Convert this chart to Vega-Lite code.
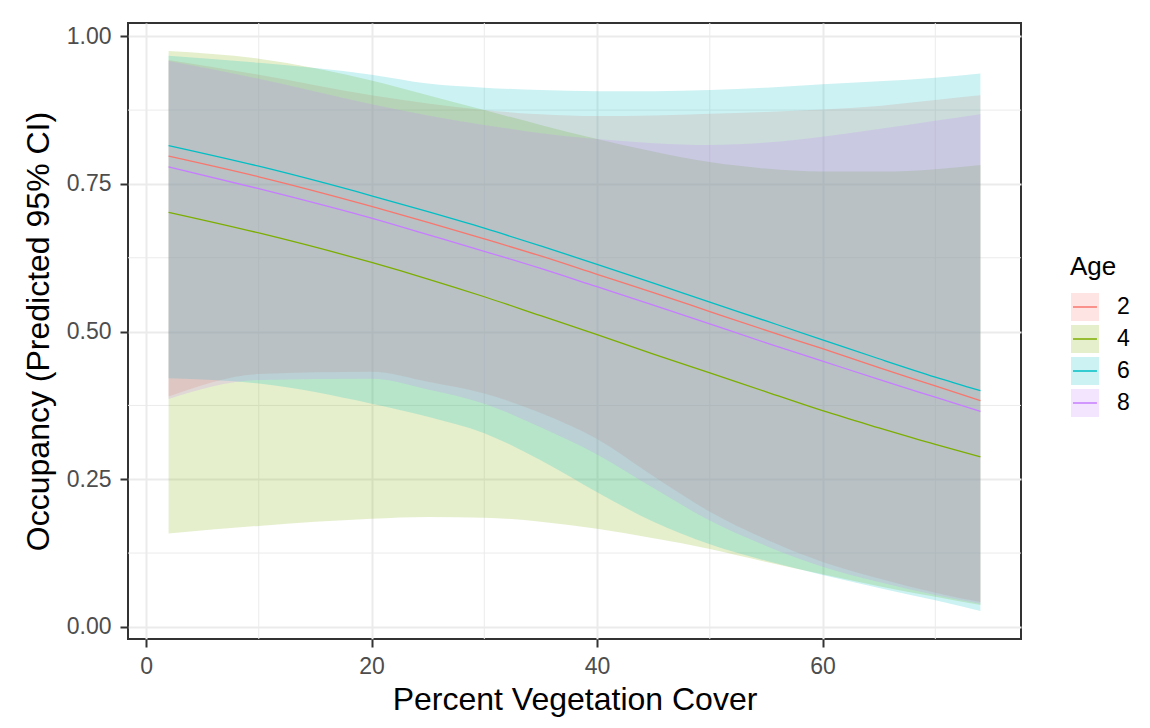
{
  "$schema": "https://vega.github.io/schema/vega-lite/v6.json",
  "width": 893,
  "height": 616,
  "autosize": {"type": "none"},
  "padding": {"left": 128, "top": 23, "right": 129, "bottom": 89},
  "background": "white",
  "config": {
    "font": "Liberation Sans",
    "view": {"stroke": "#333333", "strokeWidth": 2},
    "axis": {
      "domain": false,
      "tickColor": "#333333",
      "tickWidth": 2,
      "tickSize": 8,
      "labelColor": "#4D4D4D",
      "labelFontSize": 23,
      "labelFont": "Liberation Sans",
      "titleFont": "Liberation Sans",
      "titleFontSize": 32,
      "titleFontWeight": "normal",
      "titleColor": "#000000",
      "gridColor": "#EBEBEB",
      "gridWidth": 2
    },
    "legend": {
      "titleFont": "Liberation Sans",
      "labelFont": "Liberation Sans"
    }
  },
  "datasets": {
    "curves": [
      {"Age": "2", "x": 2, "fit": 0.797, "lo": 0.390, "hi": 0.960},
      {"Age": "2", "x": 10, "fit": 0.762, "lo": 0.428, "hi": 0.935},
      {"Age": "2", "x": 20, "fit": 0.712, "lo": 0.432, "hi": 0.900},
      {"Age": "2", "x": 25, "fit": 0.685, "lo": 0.415, "hi": 0.886},
      {"Age": "2", "x": 30, "fit": 0.657, "lo": 0.395, "hi": 0.875},
      {"Age": "2", "x": 35, "fit": 0.628, "lo": 0.362, "hi": 0.868},
      {"Age": "2", "x": 40, "fit": 0.597, "lo": 0.318, "hi": 0.865},
      {"Age": "2", "x": 45, "fit": 0.566, "lo": 0.255, "hi": 0.866},
      {"Age": "2", "x": 50, "fit": 0.534, "lo": 0.195, "hi": 0.869},
      {"Age": "2", "x": 55, "fit": 0.502, "lo": 0.148, "hi": 0.872},
      {"Age": "2", "x": 60, "fit": 0.471, "lo": 0.110, "hi": 0.876},
      {"Age": "2", "x": 65, "fit": 0.439, "lo": 0.082, "hi": 0.882},
      {"Age": "2", "x": 70, "fit": 0.408, "lo": 0.058, "hi": 0.892},
      {"Age": "2", "x": 74, "fit": 0.383, "lo": 0.042, "hi": 0.900},
      {"Age": "4", "x": 2, "fit": 0.702, "lo": 0.158, "hi": 0.975},
      {"Age": "4", "x": 10, "fit": 0.667, "lo": 0.171, "hi": 0.962},
      {"Age": "4", "x": 20, "fit": 0.617, "lo": 0.183, "hi": 0.925},
      {"Age": "4", "x": 25, "fit": 0.589, "lo": 0.186, "hi": 0.900},
      {"Age": "4", "x": 30, "fit": 0.559, "lo": 0.185, "hi": 0.875},
      {"Age": "4", "x": 35, "fit": 0.527, "lo": 0.178, "hi": 0.850},
      {"Age": "4", "x": 40, "fit": 0.495, "lo": 0.166, "hi": 0.826},
      {"Age": "4", "x": 45, "fit": 0.462, "lo": 0.150, "hi": 0.805},
      {"Age": "4", "x": 50, "fit": 0.430, "lo": 0.132, "hi": 0.787},
      {"Age": "4", "x": 55, "fit": 0.398, "lo": 0.110, "hi": 0.776},
      {"Age": "4", "x": 60, "fit": 0.366, "lo": 0.089, "hi": 0.771},
      {"Age": "4", "x": 65, "fit": 0.337, "lo": 0.069, "hi": 0.771},
      {"Age": "4", "x": 70, "fit": 0.309, "lo": 0.051, "hi": 0.775},
      {"Age": "4", "x": 74, "fit": 0.288, "lo": 0.037, "hi": 0.782},
      {"Age": "6", "x": 2, "fit": 0.815, "lo": 0.421, "hi": 0.967},
      {"Age": "6", "x": 10, "fit": 0.780, "lo": 0.412, "hi": 0.955},
      {"Age": "6", "x": 20, "fit": 0.730, "lo": 0.378, "hi": 0.935},
      {"Age": "6", "x": 25, "fit": 0.703, "lo": 0.356, "hi": 0.920},
      {"Age": "6", "x": 30, "fit": 0.675, "lo": 0.328, "hi": 0.913},
      {"Age": "6", "x": 35, "fit": 0.645, "lo": 0.282, "hi": 0.909},
      {"Age": "6", "x": 40, "fit": 0.614, "lo": 0.228, "hi": 0.907},
      {"Age": "6", "x": 45, "fit": 0.582, "lo": 0.178, "hi": 0.907},
      {"Age": "6", "x": 50, "fit": 0.550, "lo": 0.140, "hi": 0.909},
      {"Age": "6", "x": 55, "fit": 0.518, "lo": 0.112, "hi": 0.913},
      {"Age": "6", "x": 60, "fit": 0.486, "lo": 0.088, "hi": 0.919},
      {"Age": "6", "x": 65, "fit": 0.454, "lo": 0.066, "hi": 0.924},
      {"Age": "6", "x": 70, "fit": 0.423, "lo": 0.045, "hi": 0.930},
      {"Age": "6", "x": 74, "fit": 0.400, "lo": 0.027, "hi": 0.937},
      {"Age": "8", "x": 2, "fit": 0.779, "lo": 0.386, "hi": 0.958},
      {"Age": "8", "x": 10, "fit": 0.742, "lo": 0.418, "hi": 0.928},
      {"Age": "8", "x": 20, "fit": 0.692, "lo": 0.420, "hi": 0.885},
      {"Age": "8", "x": 25, "fit": 0.664, "lo": 0.402, "hi": 0.866},
      {"Age": "8", "x": 30, "fit": 0.636, "lo": 0.378, "hi": 0.850},
      {"Age": "8", "x": 35, "fit": 0.607, "lo": 0.338, "hi": 0.836},
      {"Age": "8", "x": 40, "fit": 0.576, "lo": 0.292, "hi": 0.826},
      {"Age": "8", "x": 45, "fit": 0.545, "lo": 0.235, "hi": 0.819},
      {"Age": "8", "x": 50, "fit": 0.513, "lo": 0.180, "hi": 0.816},
      {"Age": "8", "x": 55, "fit": 0.481, "lo": 0.137, "hi": 0.820},
      {"Age": "8", "x": 60, "fit": 0.450, "lo": 0.102, "hi": 0.830},
      {"Age": "8", "x": 65, "fit": 0.419, "lo": 0.076, "hi": 0.843},
      {"Age": "8", "x": 70, "fit": 0.389, "lo": 0.054, "hi": 0.857},
      {"Age": "8", "x": 74, "fit": 0.365, "lo": 0.039, "hi": 0.868}
    ],
    "minorX": [{"gx": 10}, {"gx": 30}, {"gx": 50}, {"gx": 70}],
    "minorY": [{"gy": 0.125}, {"gy": 0.375}, {"gy": 0.625}, {"gy": 0.875}]
  },
  "layer": [
    {
      "data": {"name": "minorX"},
      "mark": {"type": "rule", "color": "#EBEBEB", "strokeWidth": 1},
      "encoding": {
        "x": {
          "field": "gx", "type": "quantitative",
          "scale": {"domain": [-1.6, 77.6], "nice": false, "zero": false},
          "axis": {"title": "Percent Vegetation Cover", "values": [0, 20, 40, 60], "format": "d", "labelPadding": 8, "titlePadding": 6}
        }
      }
    },
    {
      "data": {"name": "minorY"},
      "mark": {"type": "rule", "color": "#EBEBEB", "strokeWidth": 1},
      "encoding": {
        "y": {
          "field": "gy", "type": "quantitative",
          "scale": {"domain": [-0.0205, 1.0225], "nice": false, "zero": false},
          "axis": {"title": "Occupancy (Predicted 95% CI)", "values": [0, 0.25, 0.5, 0.75, 1], "format": ".2f", "labelPadding": 9, "titlePadding": 11}
        }
      }
    },
    {
      "data": {"name": "curves"},
      "mark": {"type": "area", "opacity": 0.2, "interpolate": "monotone"},
      "encoding": {
        "x": {
          "field": "x", "type": "quantitative",
          "scale": {"domain": [-1.6, 77.6], "nice": false, "zero": false},
          "axis": {"title": "Percent Vegetation Cover", "values": [0, 20, 40, 60], "format": "d", "labelPadding": 8, "titlePadding": 6}
        },
        "y": {
          "field": "lo", "type": "quantitative",
          "scale": {"domain": [-0.0205, 1.0225], "nice": false, "zero": false},
          "axis": {"title": "Occupancy (Predicted 95% CI)", "values": [0, 0.25, 0.5, 0.75, 1], "format": ".2f", "labelPadding": 9, "titlePadding": 11}
        },
        "y2": {"field": "hi"},
        "fill": {
          "field": "Age", "type": "nominal",
          "scale": {"domain": ["2", "4", "6", "8"], "range": ["#F8766D", "#7CAE00", "#00BFC4", "#C77CFF"]},
          "legend": {
            "title": "Age",
            "orient": "none",
            "legendX": 942,
            "legendY": 231,
            "titleFontSize": 26,
            "titleFontWeight": "normal",
            "titleColor": "#000000",
            "titlePadding": 12,
            "labelFontSize": 23,
            "labelColor": "#000000",
            "labelOffset": 17,
            "symbolSize": 784,
            "symbolType": "M-0.86,0H1V-1H-1V1H1V0H-0.86Z",
            "symbolStrokeWidth": 1.5,
            "symbolDash": [24, 10000],
            "rowPadding": -3,
            "padding": 0,
            "encode": {
              "symbols": {
                "update": {
                  "opacity": {"value": 1},
                  "fillOpacity": {"value": 0.2},
                  "strokeOpacity": {"value": 1}
                }
              }
            }
          }
        }
      }
    },
    {
      "data": {"name": "curves"},
      "mark": {"type": "line", "strokeWidth": 1.3, "interpolate": "monotone"},
      "encoding": {
        "x": {
          "field": "x", "type": "quantitative",
          "scale": {"domain": [-1.6, 77.6], "nice": false, "zero": false},
          "axis": {"title": "Percent Vegetation Cover", "values": [0, 20, 40, 60], "format": "d", "labelPadding": 8, "titlePadding": 6}
        },
        "y": {
          "field": "fit", "type": "quantitative",
          "scale": {"domain": [-0.0205, 1.0225], "nice": false, "zero": false},
          "axis": {"title": "Occupancy (Predicted 95% CI)", "values": [0, 0.25, 0.5, 0.75, 1], "format": ".2f", "labelPadding": 9, "titlePadding": 11}
        },
        "stroke": {
          "field": "Age", "type": "nominal",
          "scale": {"domain": ["2", "4", "6", "8"], "range": ["#F8766D", "#7CAE00", "#00BFC4", "#C77CFF"]},
          "legend": {
            "title": "Age",
            "orient": "none",
            "legendX": 942,
            "legendY": 231,
            "titleFontSize": 26,
            "titleFontWeight": "normal",
            "titleColor": "#000000",
            "titlePadding": 12,
            "labelFontSize": 23,
            "labelColor": "#000000",
            "labelOffset": 17,
            "symbolSize": 784,
            "symbolType": "M-0.86,0H1V-1H-1V1H1V0H-0.86Z",
            "symbolStrokeWidth": 1.5,
            "symbolDash": [24, 10000],
            "rowPadding": -3,
            "padding": 0,
            "encode": {
              "symbols": {
                "update": {
                  "opacity": {"value": 1},
                  "fillOpacity": {"value": 0.2},
                  "strokeOpacity": {"value": 1}
                }
              }
            }
          }
        }
      }
    }
  ]
}
